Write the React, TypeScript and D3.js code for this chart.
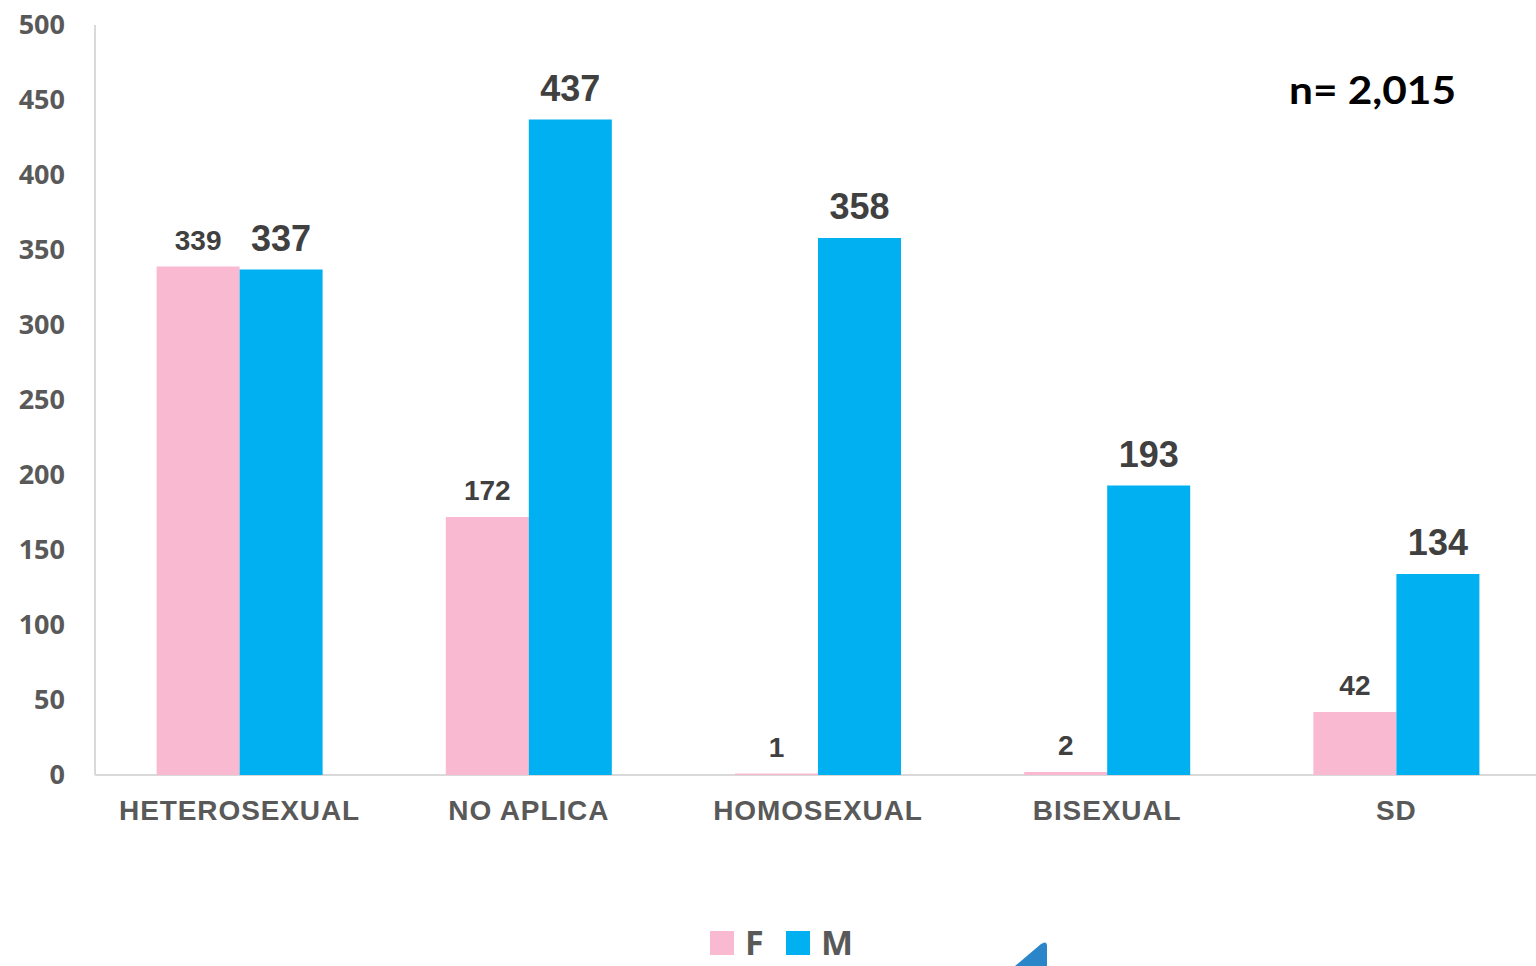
import React from "react";
import * as d3 from "d3";

const categories = ["HETEROSEXUAL", "NO APLICA", "HOMOSEXUAL", "BISEXUAL", "SD"];
const seriesNames = ["F", "M"];
const femaleValues = [339, 172, 1, 2, 42];
const maleValues = [337, 437, 358, 193, 134];
const yTicks = [0, 50, 100, 150, 200, 250, 300, 350, 400, 450, 500];
const seriesColors = ["#F8B9D1", "#00B0F0"];
const noteText = "n= 2,015";

const W = 1536;
const H = 966;

export default function App() {
  const x = d3
    .scaleBand<string>()
    .domain(categories)
    .range([95, 1541])
    .paddingInner(0.426)
    .paddingOuter(0.213);
  const xs = d3.scaleBand<string>().domain(seriesNames).range([0, x.bandwidth()]).padding(0);
  const y = d3.scaleLinear().domain([0, 500]).range([775, 25]);

  const series = [femaleValues, maleValues];
  const labelSize = [28, 36];
  const labelGap = [17, 19];

  return (
    <svg
      width={W}
      height={H}
      style={{ position: "absolute", left: 0, top: 0, background: "#fff" }}
    >
      <rect x={0} y={0} width={W} height={H} fill="#fff" />
      <line x1={95} x2={95} y1={y(500)} y2={y(0)} stroke="#D9D9D9" strokeWidth={2} />
      <line x1={95} x2={W} y1={y(0)} y2={y(0)} stroke="#D9D9D9" strokeWidth={2} />
      {yTicks.map((t) => (
        <text
          key={t}
          x={65}
          y={y(t)}
          dy="0.35em"
          textAnchor="end"
          fontFamily="'Open Sans', sans-serif"
          fontWeight={700}
          fontSize={27}
          fill="#595959"
        >
          {t}
        </text>
      ))}
      {categories.map((c) => (
        <text
          key={c}
          x={(x(c) ?? 0) + x.bandwidth() / 2}
          y={820}
          textAnchor="middle"
          fontFamily="'Liberation Sans', Arial, sans-serif"
          fontWeight={700}
          fontSize={28}
          letterSpacing={0.9}
          fill="#595959"
        >
          {c}
        </text>
      ))}
      {series.map((vals, si) =>
        categories.map((c, i) => {
          const bx = (x(c) ?? 0) + (xs(seriesNames[si]) ?? 0);
          const v = vals[i];
          return (
            <g key={c + si}>
              <rect
                x={bx}
                y={y(v)}
                width={xs.bandwidth()}
                height={y(0) - y(v)}
                fill={seriesColors[si]}
              />
              <text
                x={bx + xs.bandwidth() / 2}
                y={y(v) - labelGap[si]}
                textAnchor="middle"
                fontFamily="'Liberation Sans', Arial, sans-serif"
                fontWeight={700}
                fontSize={labelSize[si]}
                fill="#404040"
              >
                {v}
              </text>
            </g>
          );
        })
      )}
      <text
        x={1289}
        y={104}
        fontFamily="Lato, 'Open Sans', sans-serif"
        fontWeight={700}
        fontSize={39}
        textLength={167}
        lengthAdjust="spacingAndGlyphs"
        fill="#000"
      >
        {noteText}
      </text>
      {seriesNames.map((s, i) => {
        const lx = 710 + i * 76;
        return (
          <g key={s}>
            <rect x={lx} y={931} width={24} height={24} fill={seriesColors[i]} />
            <text
              x={lx + 35}
              y={955}
              fontFamily="'Open Sans', sans-serif"
              fontWeight={700}
              fontSize={34}
              fill="#595959"
            >
              {s}
            </text>
          </g>
        );
      })}
      <path d="M1015,966 L1041,944 Q1047,940 1047,946 L1047,966 Z" fill="#2A86C8" />
    </svg>
  );
}
